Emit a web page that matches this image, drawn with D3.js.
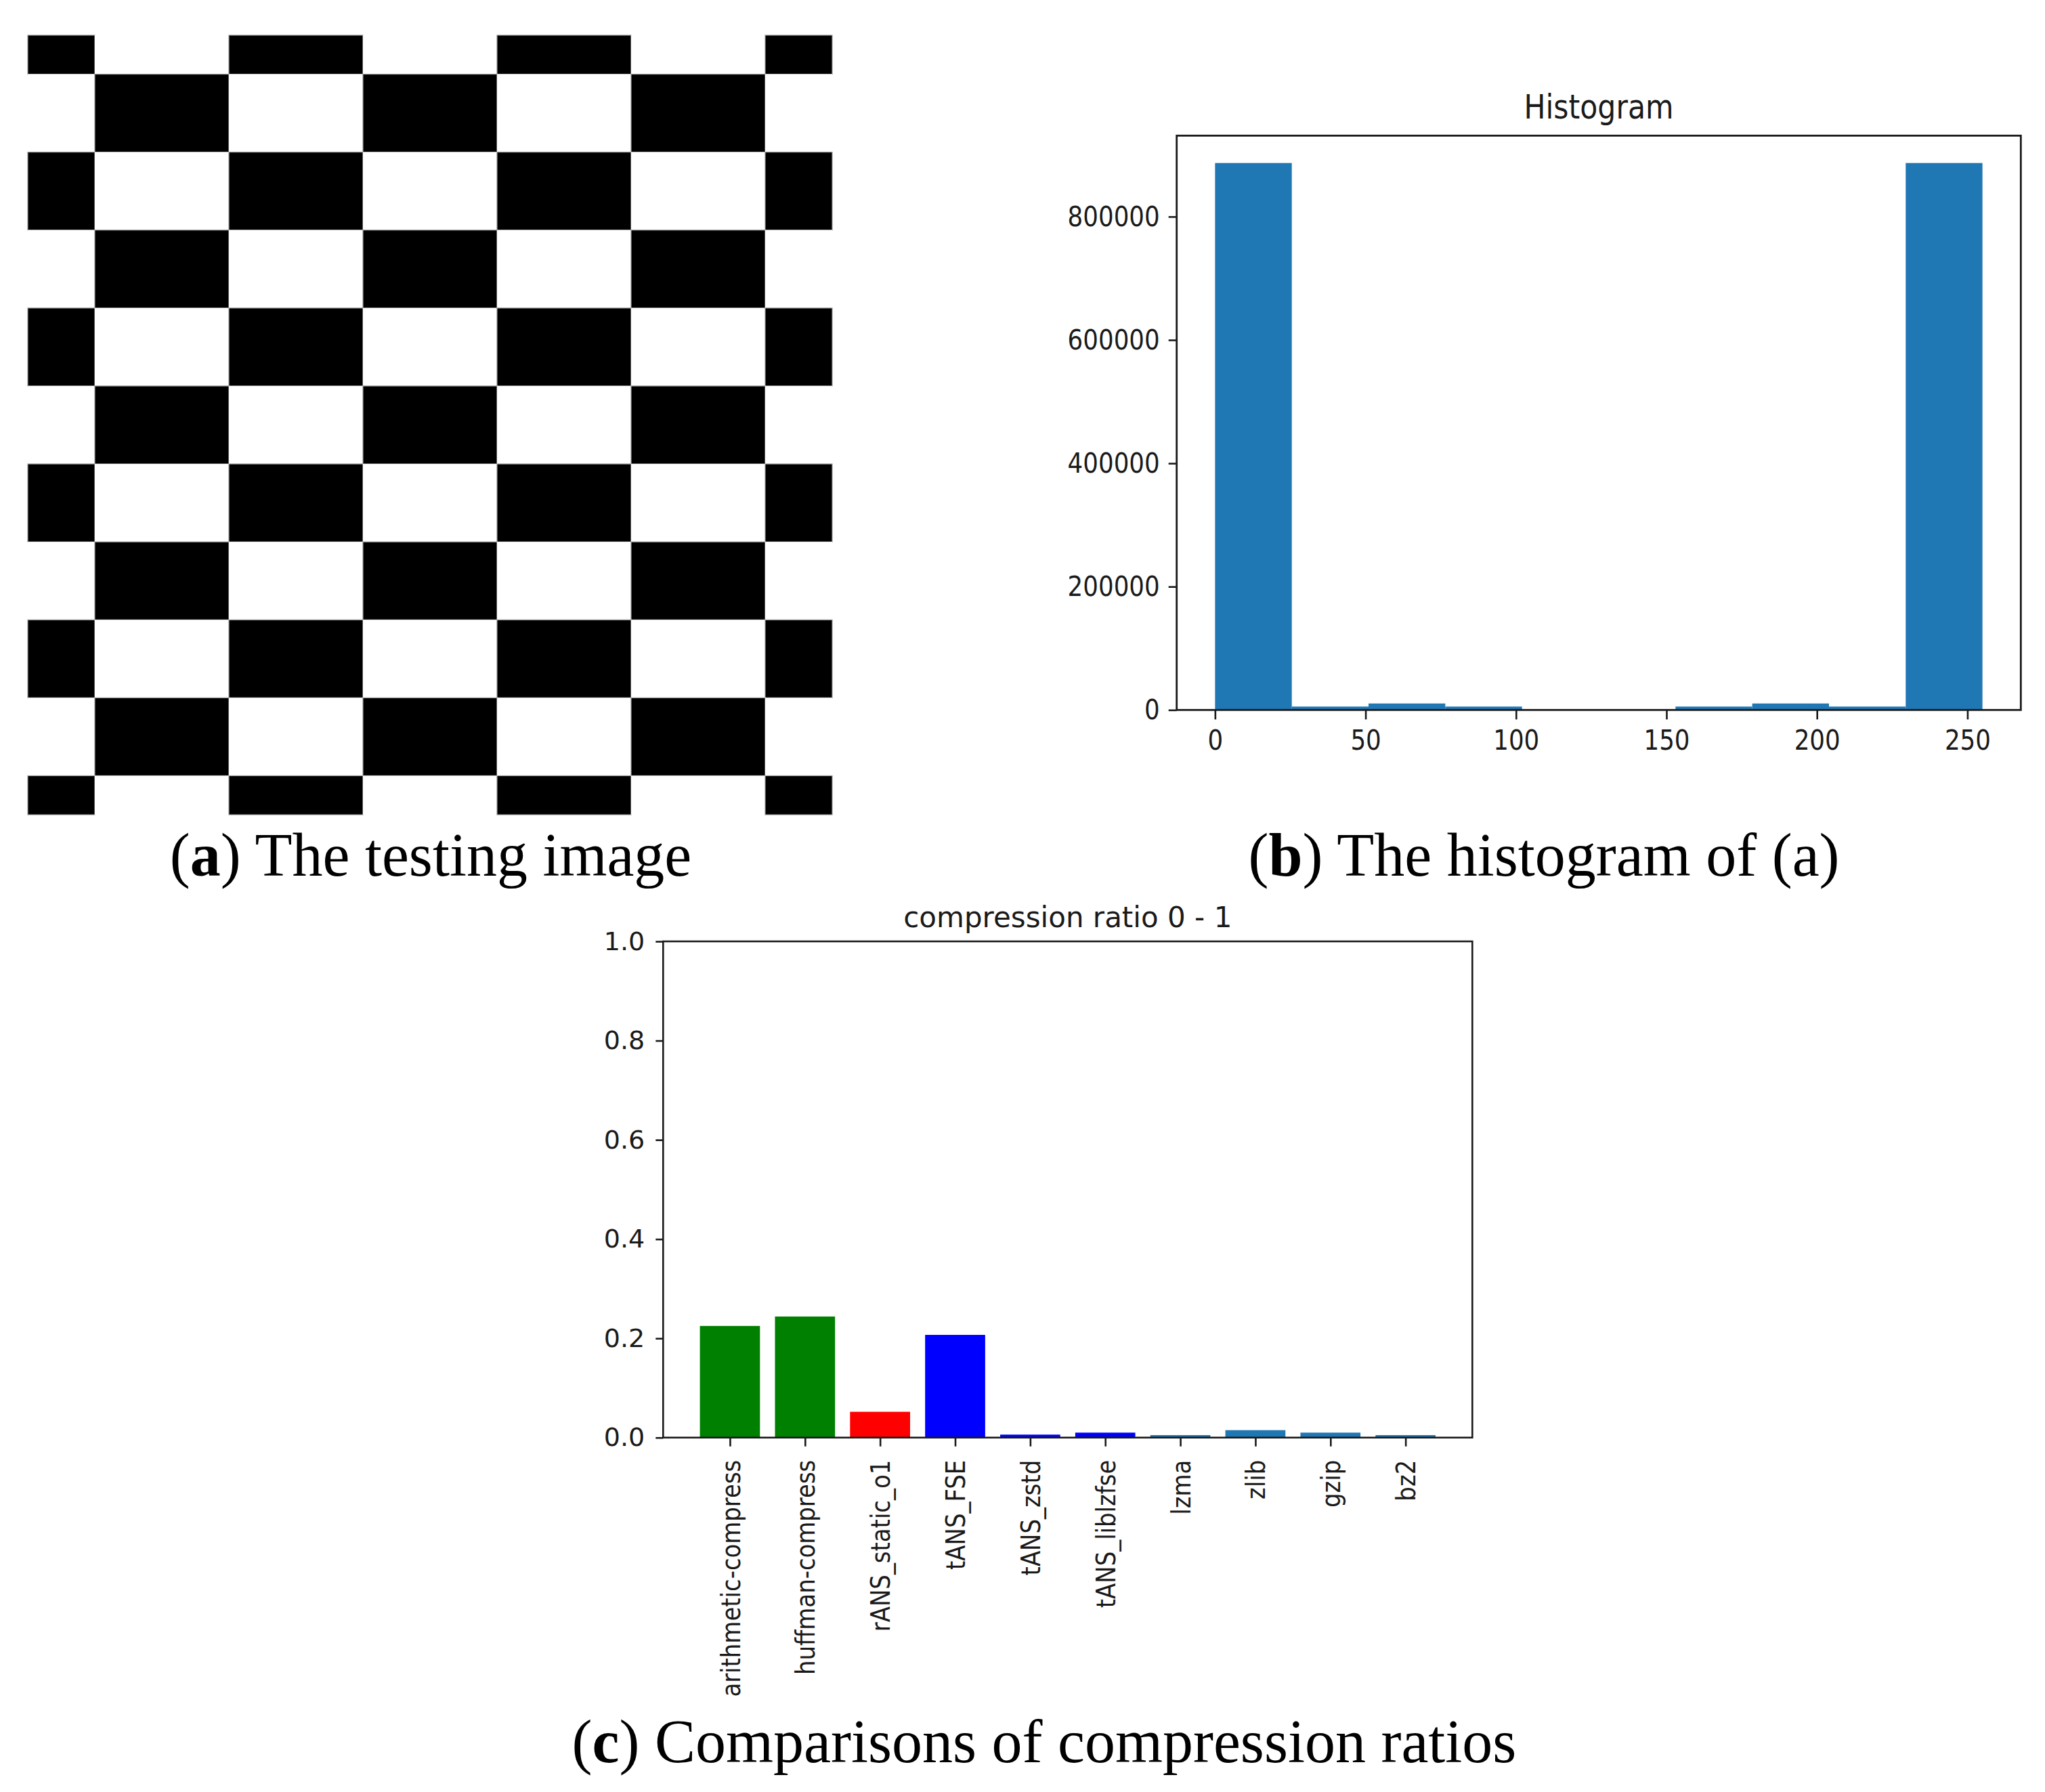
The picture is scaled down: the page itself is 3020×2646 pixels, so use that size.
<!DOCTYPE html>
<html><head><meta charset="utf-8">
<script src="https://cdn.jsdelivr.net/npm/d3@7"></script>
<style>body{margin:0;background:#fff}</style>
</head><body>
<svg id="c" width="3020" height="2646" xmlns="http://www.w3.org/2000/svg"></svg>
<script>
// ---------- (a) testing image: gray level of each visible checkerboard cell ----------
const cellWidths  = [0.5, 1, 1, 1, 1, 1, 0.5];            // visible part of each column (cells)
const cellHeights = [0.5, 1, 1, 1, 1, 1, 1, 1, 1, 1, 0.5]; // visible part of each row (cells)
const imagePixels = [
  [0,255,0,255,0,255,0],
  [255,0,255,0,255,0,255],
  [0,255,0,255,0,255,0],
  [255,0,255,0,255,0,255],
  [0,255,0,255,0,255,0],
  [255,0,255,0,255,0,255],
  [0,255,0,255,0,255,0],
  [255,0,255,0,255,0,255],
  [0,255,0,255,0,255,0],
  [255,0,255,0,255,0,255],
  [0,255,0,255,0,255,0]
];

// ---------- (b) histogram ----------
const histBinEdges = [0, 25.5, 51, 76.5, 102, 127.5, 153, 178.5, 204, 229.5, 255];
const histCounts   = [887000, 5500, 10500, 5500, 0, 0, 5500, 10500, 5500, 887000];
const histXTicks   = [0, 50, 100, 150, 200, 250];
const histYTicks   = [0, 200000, 400000, 600000, 800000];

// ---------- (c) compression ratios ----------
const methods   = ["arithmetic-compress", "huffman-compress", "rANS_static_o1", "tANS_FSE",
                   "tANS_zstd", "tANS_liblzfse", "lzma", "zlib", "gzip", "bz2"];
const ratios    = [0.225, 0.244, 0.052, 0.207, 0.006, 0.010, 0.005, 0.015, 0.010, 0.005];
const barColors = ["#008000", "#008000", "#ff0000", "#0000ff", "#0000ff", "#0000ff",
                   "#1f77b4", "#1f77b4", "#1f77b4", "#1f77b4"];
const ratioTicks = [0, 0.2, 0.4, 0.6, 0.8, 1.0];

const captions = [
  {tag: "a", text: " The testing image"},
  {tag: "b", text: " The histogram of (a)"},
  {tag: "c", text: " Comparisons of compression ratios"}
];

const svg = d3.select("#c");
svg.append("rect").attr("width", 3020).attr("height", 2646).attr("fill", "#fff");
const SANS = "'DejaVu Sans', sans-serif";
const SERIF = "'Palatino Linotype', 'Book Antiqua', 'URW Palladio L', 'Liberation Serif', serif";
const INK = "#1a1a1a";

// ================= (a) checkerboard =================
{
  const colStart = [0, ...d3.cumsum(cellWidths)];
  const rowStart = [0, ...d3.cumsum(cellHeights)];
  const x = d3.scaleLinear().domain([0, d3.sum(cellWidths)]).range([41, 1229]);
  const y = d3.scaleLinear().domain([0, d3.sum(cellHeights)]).range([52, 1203]);
  const gray = d3.scaleLinear().domain([0, 255]).range(["#000", "#fff"]);
  const cells = [];
  imagePixels.forEach((row, r) => row.forEach((v, c) => cells.push({r, c, v})));
  svg.append("g").selectAll("rect").data(cells).join("rect")
    .attr("x", d => x(colStart[d.c]))
    .attr("y", d => y(rowStart[d.r]))
    .attr("width", d => x(colStart[d.c + 1]) - x(colStart[d.c]))
    .attr("height", d => y(rowStart[d.r + 1]) - y(rowStart[d.r]))
    .attr("fill", d => gray(d.v))
    .attr("stroke", d => d.v === 0 ? "#9a9a9a" : "none")
    .attr("stroke-width", 1.2);
}

// ================= (b) histogram =================
{
  const L = 1737.7, R = 2984.3, T = 200.3, B = 1048.3;
  const maxC = d3.max(histCounts);
  const x = d3.scaleLinear().domain([-12.75, 267.75]).range([L, R]);
  const y = d3.scaleLinear().domain([0, maxC * 1.05]).range([B, T]);
  const SX = 0.87; // horizontally condensed text of the source raster
  const g = svg.append("g");
  const bins = histCounts.map((c, i) => ({x0: histBinEdges[i], x1: histBinEdges[i + 1], c}));
  g.append("g").selectAll("rect").data(bins.filter(d => d.c > 0)).join("rect")
    .attr("x", d => x(d.x0)).attr("width", d => x(d.x1) - x(d.x0))
    .attr("y", d => y(d.c)).attr("height", d => y(0) - y(d.c))
    .attr("fill", "#1f77b4");

  const ax = g.append("g").attr("transform", `translate(0,${B})`)
    .call(d3.axisBottom(x).tickValues(histXTicks).tickFormat(d3.format("d")).tickSize(14).tickPadding(16));
  const ay = g.append("g").attr("transform", `translate(${L},0)`)
    .call(d3.axisLeft(y).tickValues(histYTicks).tickFormat(d3.format("d")).tickSize(12).tickPadding(13));
  [ax, ay].forEach(a => {
    a.select(".domain").remove();
    a.selectAll("line").attr("stroke", INK).attr("stroke-width", 2.6);
    a.selectAll("text").attr("font-family", SANS).attr("font-size", 41).attr("fill", INK);
  });
  ax.selectAll("text").attr("transform", `scale(${SX},1)`);
  ay.selectAll("text").each(function () {
    const t = d3.select(this);
    t.attr("x", +t.attr("x") / SX).attr("transform", `scale(${SX},1)`);
  });
  g.append("rect").attr("x", L).attr("y", T).attr("width", R - L).attr("height", B - T)
    .attr("fill", "none").attr("stroke", INK).attr("stroke-width", 2.8);
  g.append("text").attr("transform", `translate(${(L + R) / 2},175) scale(${SX},1)`)
    .attr("text-anchor", "middle").attr("font-family", SANS).attr("font-size", 49)
    .attr("fill", INK).text("Histogram");
}

// ================= (c) compression ratio bars =================
{
  const L = 979.3, R = 2174.3, T = 1390, B = 2122.7;
  const x = d3.scaleLinear().domain([-0.89, methods.length - 1 + 0.89]).range([L, R]);
  const y = d3.scaleLinear().domain([0, 1]).range([B, T]);
  const g = svg.append("g");
  const data = methods.map((m, i) => ({m, i, v: ratios[i], col: barColors[i]}));
  g.append("g").selectAll("rect").data(data).join("rect")
    .attr("x", d => x(d.i - 0.4)).attr("width", d => x(d.i + 0.4) - x(d.i - 0.4))
    .attr("y", d => y(d.v)).attr("height", d => y(0) - y(d.v))
    .attr("fill", d => d.col);

  const ax = g.append("g").attr("transform", `translate(0,${B})`)
    .call(d3.axisBottom(x).tickValues(d3.range(methods.length)).tickFormat(i => methods[i]).tickSize(13).tickPadding(0));
  const ay = g.append("g").attr("transform", `translate(${L},0)`)
    .call(d3.axisLeft(y).tickValues(ratioTicks).tickFormat(d3.format(".1f")).tickSize(11).tickPadding(16));
  [ax, ay].forEach(a => {
    a.select(".domain").remove();
    a.selectAll("line").attr("stroke", INK).attr("stroke-width", 2.6);
    a.selectAll("text").attr("font-family", SANS).attr("fill", INK);
  });
  ay.selectAll("text").attr("font-size", 38);
  ax.selectAll("text")
    .attr("font-size", 39)
    .attr("text-anchor", "end")
    .attr("x", 0).attr("y", 0).attr("dy", "0.36em")
    .attr("transform", "translate(0,33) rotate(-90) scale(0.87,1)");
  g.append("rect").attr("x", L).attr("y", T).attr("width", R - L).attr("height", B - T)
    .attr("fill", "none").attr("stroke", INK).attr("stroke-width", 2.6);
  g.append("text").attr("x", (L + R) / 2).attr("y", 1369)
    .attr("text-anchor", "middle").attr("font-family", SANS).attr("font-size", 42)
    .attr("fill", INK).text("compression ratio 0 - 1");
}

// ================= captions =================
{
  const capPos = [[636, 1293], [2280, 1293], [1542, 2602]];
  captions.forEach((c, i) => {
    const t = svg.append("text").attr("x", capPos[i][0]).attr("y", capPos[i][1])
      .attr("text-anchor", "middle").attr("font-family", SERIF).attr("font-size", 90).attr("fill", "#000");
    t.append("tspan").text("(");
    t.append("tspan").attr("font-weight", "bold").text(c.tag);
    t.append("tspan").text(")" + c.text);
  });
}
</script>
</body></html>
